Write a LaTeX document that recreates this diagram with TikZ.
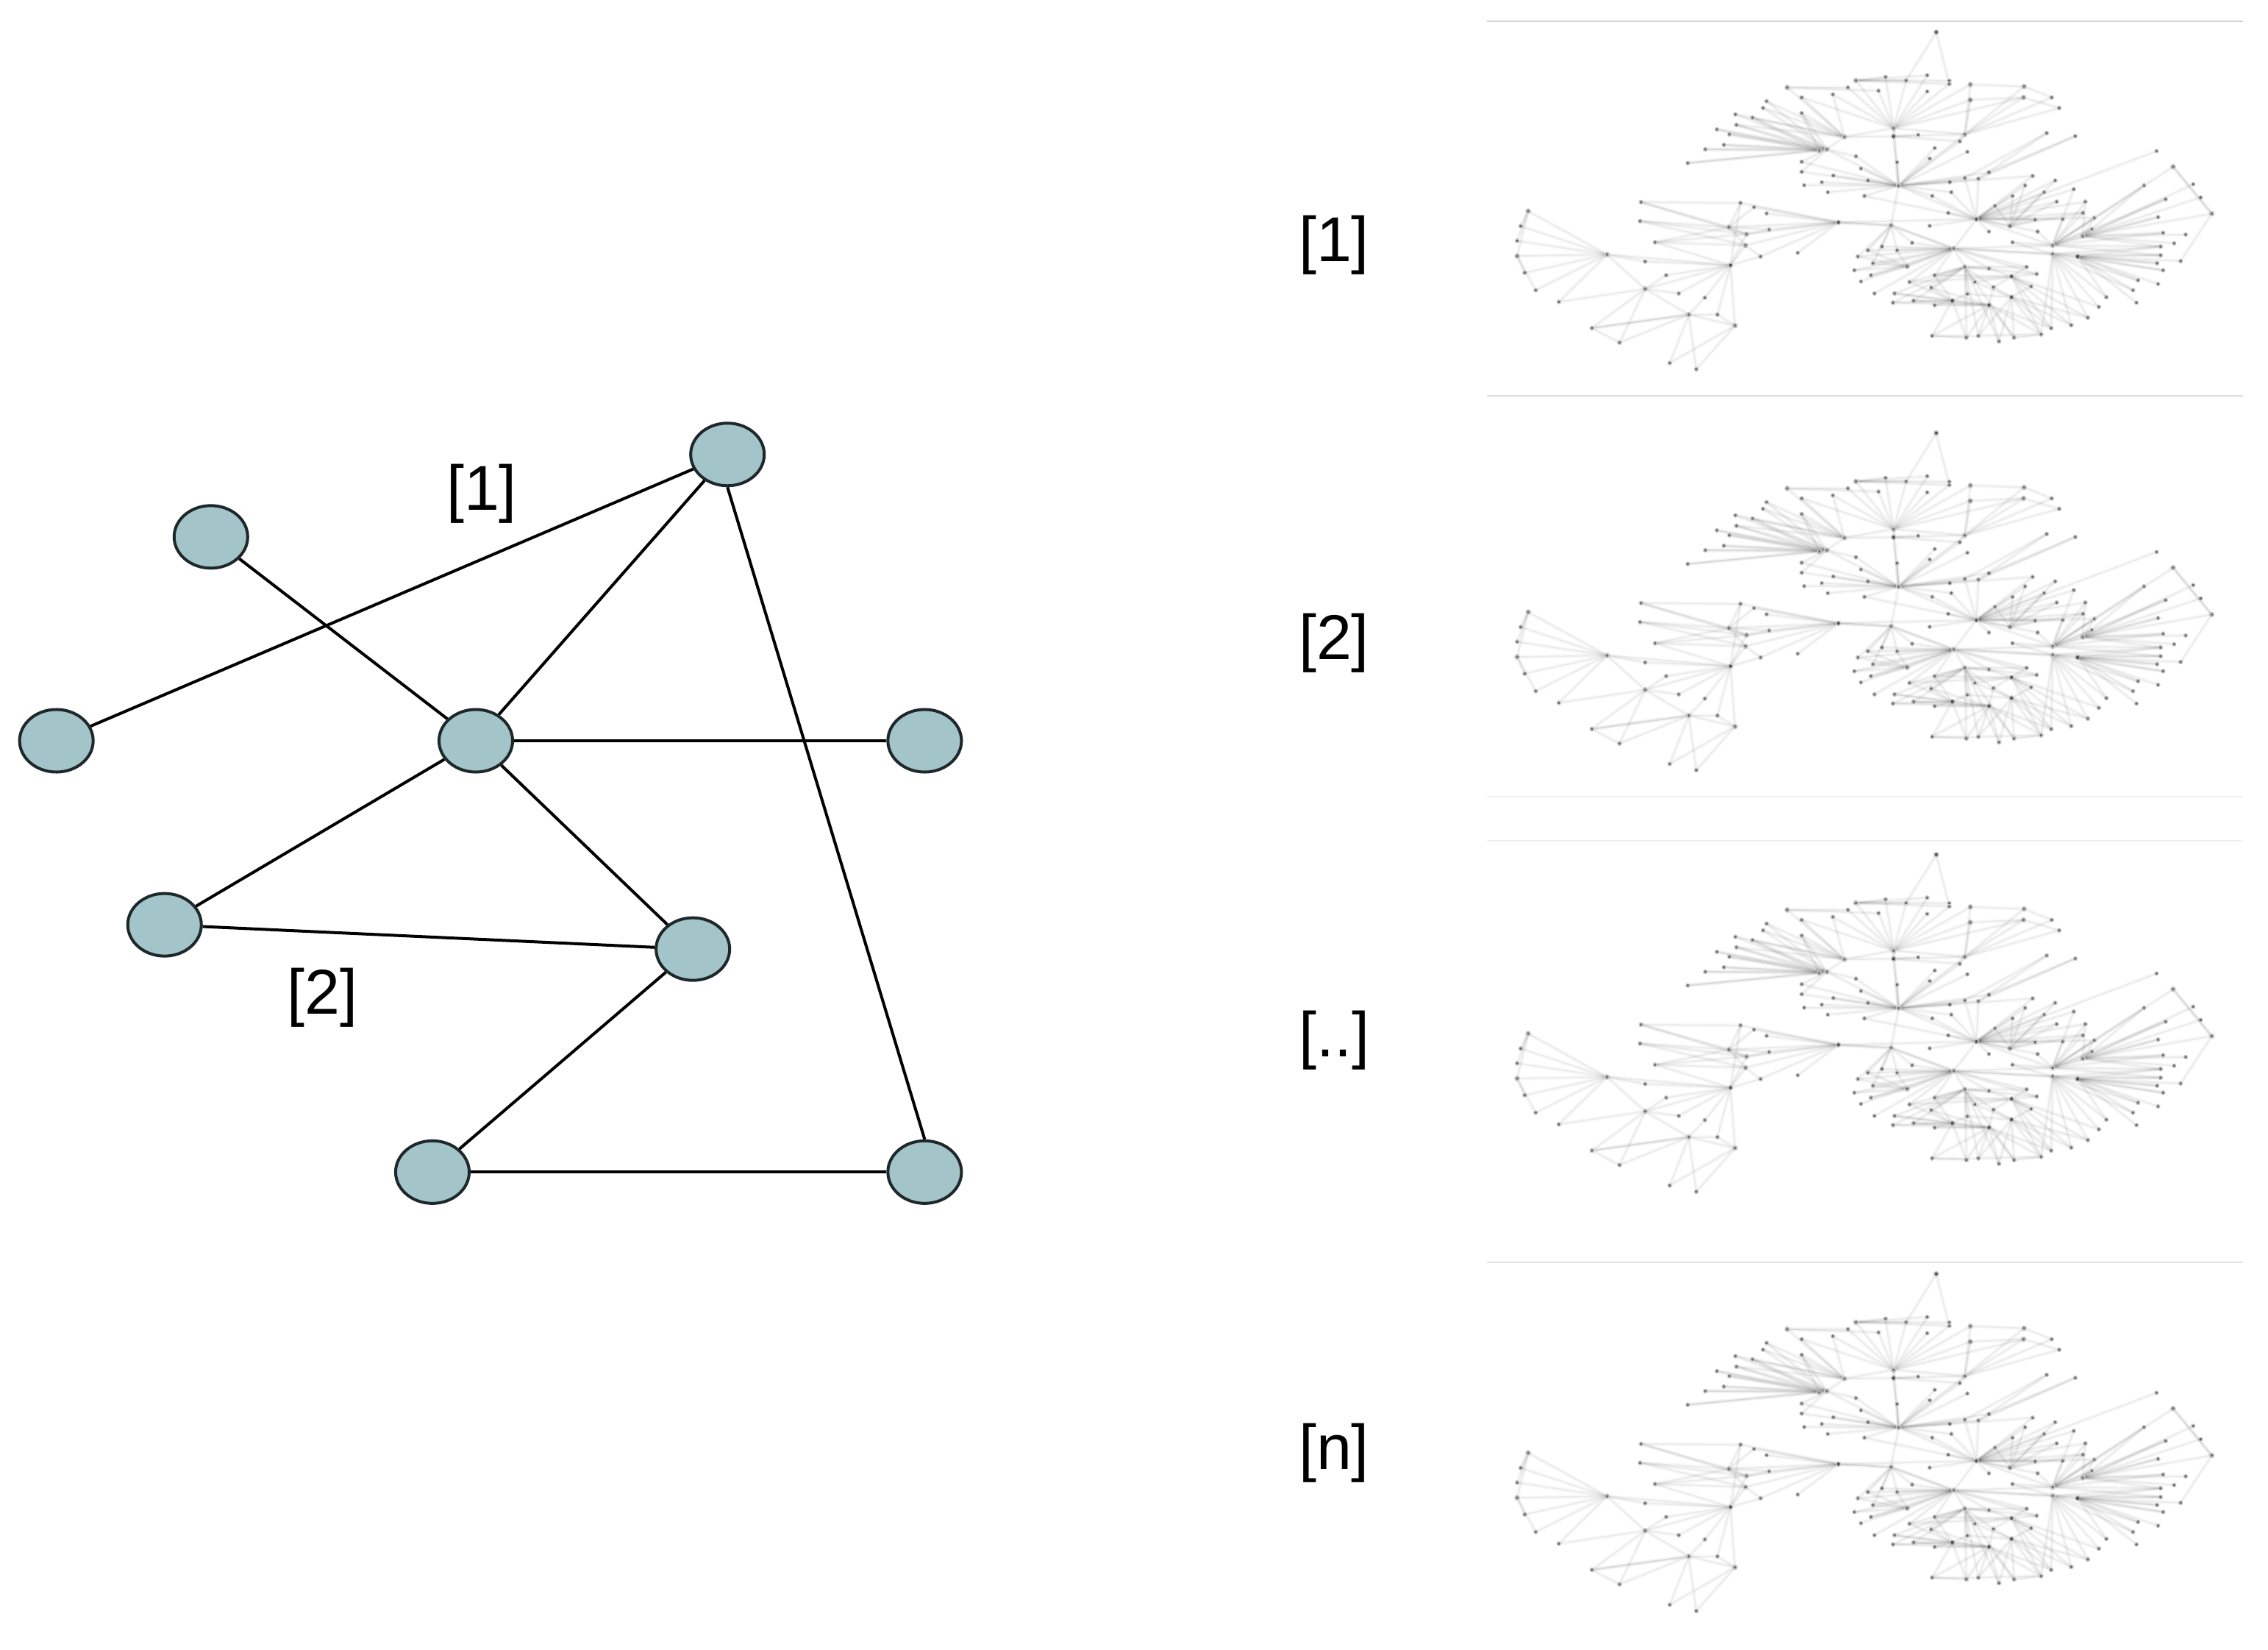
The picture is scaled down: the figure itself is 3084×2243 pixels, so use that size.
\documentclass[tikz,border=0pt]{standalone}
\usepackage{fontspec}
\setmainfont{Liberation Sans}
\usetikzlibrary{positioning,shapes.geometric}
\definecolor{NodeTeal} {RGB}{163,196,200}
\definecolor{NodeEdge} {RGB}{ 30, 40, 42}
\definecolor{RuleGray} {RGB}{222,222,222}
\tikzset{
  %% graph on the left
  gnode/.style={ellipse,draw=NodeEdge,fill=NodeTeal,line width=0.04cm,
                minimum width=1.0cm,minimum height=0.85cm,inner sep=0pt},
  gedge/.style={line width=0.04cm,color=black},
  glabel/.style={font=\fontsize{24.5}{28}\selectfont,inner sep=0pt},
  %% thumbnails on the right
  netdot/.style={circle,fill=black!56,draw=black!22,line width=0.012cm,
                 minimum size=0.05cm,inner sep=0pt},
  nethub/.style={circle,fill=black!68,draw=black!25,line width=0.015cm,
                 minimum size=0.06cm,inner sep=0pt},
  netedge/.style={line width=0.02cm,color=black,opacity=0.05,
                  preaction={draw,line width=0.055cm,color=black,opacity=0.025}},
  netrule/.style={line width=0.025cm,color=RuleGray},
}
\newcommand{\nethubs}[1]{%
  \foreach \hname/\px/\py in {#1}{\node[nethub] (\hname) at (\px,\py) {};}}
\newcommand{\netfan}[2]{%
  \foreach \px/\py [count=\i] in {#2}{
    \node[netdot] (#1-\i) at (\px,\py) {};
    \draw[netedge] (#1) -- (#1-\i);
  }}
\newcommand{\netpanel}[2]{%
  \begin{scope}[shift={(2020,#2)},x=0.00682cm,y=-0.00339cm,name prefix=#1-]
    \nethubs{A/813/455,B/813/488,C/955/480,D/715/490,E/680/540,EB/665/545,F/823/686,
             G/978/820,H/1130/925,I/1130/960,J/1180/970,K/933/938,L/955/1012,KB/840/1010,
             M/1048/1050,N/1048/1133,O/1003/1165,Q/930/1147,R/703/833,S/485/852,
             T/488/1005,U/242/962,V/318/1100,W/405/1203,X/497/1247,Y/808/845,
             Z/1190/888,AP/898/70,TL/738/264,TM/601/292,TR/966/280,TS/966/342,
             TT/1073/288,TU/1072/332,LA/85/788,LB/63/968,RA/1370/610,RB/1447/798,
             SC/520/880,SD/518/925,GB/1045/847}
    %% top
    \netfan{AP}{838/264,924/278}
    \netfan{TL}{797/250,838/264,880/243,924/265,924/278}
    \netfan{TM}{722/292,783/305}
    \netfan{TR}{1073/288}
    \netfan{TS}{1072/332}
    \netfan{TT}{1128/332}
    \netfan{TU}{1143/374}
    \netfan{A}{738/264,797/250,838/264,880/243,924/278,722/292,783/305,692/320,630/332,
               880/308,966/280,966/342,1072/332}
    \netfan{C}{1073/288,1072/332,1128/332,1143/374,966/342,966/280,945/508,813/455}
    \netfan{B}{715/490,955/480,862/482,813/455,823/686,945/508}
    \netfan{D}{630/332,692/320,630/395,560/347,553/374,532/413,601/292,498/400,500/442,680/540,813/455}
    \netfan{E}{560/347,553/374,498/400,532/413,500/442,461/460,486/480,475/522,438/540,
               403/595,630/395,630/590,630/630,738/568,665/545,823/686}
    \netfan{EB}{500/442,486/480,475/522,532/413,438/540,403/595,630/395,461/460}
    %% middle
    \netfan{F}{635/684,670/672,682/712,693/645,748/617,762/665,755/727,820/592,885/577,
               895/535,960/550,945/508,925/672,928/712,890/727,955/655,982/658,1003/632,
               1090/647,630/590,630/630,738/568,813/455,955/480}
    \draw[netedge] (F) -- (G);
    \draw[netedge] (F) -- (Y);
    \netfan{G}{1337/547,1135/665,1172/700,1075/685,1113/712,1050/727,1138/750,1015/767,
               922/795,885/847,1095/822,1045/847,1003/870,1100/870,1150/820,1190/795,
               955/655,982/658,928/712,890/727,755/727,1090/647,1195/750,1213/815}
    \netfan{GB}{1135/665,1113/712,1050/727,1075/685,1138/750,1015/767,1095/822,1190/795}
    \draw[netedge] (G) -- (R);
    \draw[netedge] (G) -- (K);
    \draw[netedge] (G) -- (H);
    \node[netdot] (UA) at (955,655) {};
    \node[netdot] (UB) at (982,658) {};
    \node[netdot] (UC) at (1003,632) {};
    \netfan{UA}{1118/475}
    \netfan{UB}{1175/487,1118/475}
    \netfan{UC}{1175/487}
    %% far right
    \netfan{H}{1370/610,1312/685,1355/740,1340/812,1213/815,1350/875,1345/930,1345/965,
               1190/888,1195/750,1050/913,1190/795,1172/700,1208/860,1150/820,1100/870}
    \netfan{Z}{1410/680,1425/733,1447/798,1395/882,1372/917,1350/875,1345/930,1312/685,
               1355/740,1340/812,1213/815,1208/860,1195/750}
    \netfan{I}{1345/965,1338/997,1345/930,1350/1025,1300/1065,1290/1105,1237/1133,
               1222/1172,1200/1215,1167/1245,1127/1257,1107/1282,1050/913,933/938}
    \netfan{J}{1385/988,1338/997,1350/1025,1300/1065,1340/1080,1290/1105,1297/1155,
               1237/1133,1345/965,1345/930}
    \netfan{RA}{1447/798}
    \netfan{RB}{1385/988}
    \draw[netedge] (RA) -- (RB);
    %% lower
    \netfan{K}{808/845,850/915,790/930,762/945,820/945,742/970,772/997,840/1010,735/1025,
               768/1045,748/1070,775/1118,845/1072,895/1045,955/1012,1003/1018,1078/1012,
               1098/1040,1130/960,1130/925}
    \netfan{KB}{742/970,772/997,735/1025,768/1045,762/945,820/945}
    \netfan{Y}{790/930,762/945,742/970,820/945,850/915,772/997,933/938}
    \netfan{L}{1003/1018,1078/1012,1098/1040,895/1045,845/1072,888/1095,812/1155,815/1118,
               853/1147,975/1072,960/1120,1012/1093,958/1295,982/1288,1023/1310,1053/1295}
    \netfan{M}{1003/1018,1078/1012,1098/1040,1087/1090,975/1072,1012/1093,895/1045,845/1072,
               1107/1282,1127/1257,1167/1245,1200/1215,1222/1172}
    \netfan{N}{1012/1093,1087/1090,960/1120,975/1072,1053/1295,1023/1310,1107/1282,1127/1257,
               1167/1245,1200/1215,982/1288}
    \netfan{O}{958/1295,982/1288,1023/1310,1053/1295,890/1288,895/1165,853/1147,812/1155,
               815/1118,888/1095,1107/1282,1127/1257,1012/1093}
    \netfan{Q}{890/1288,958/1295,853/1147,812/1155,815/1118,845/1072,895/1165,888/1095,960/1120,895/1045}
    \draw[netedge] (O) -- (Q);
    \node[netdot] (BA) at (890,1288) {};
    \netfan{BA}{958/1295,982/1288}
    \node[netdot] (BB) at (1107,1282) {};
    \netfan{BB}{1053/1295,982/1288}
    %% left clusters
    \netfan{R}{508/755,535/772,560/797,485/852,565/862,520/880,518/925,548/970,622/955,808/845}
    \draw[netedge] (R) -- (Y);
    \netfan{S}{310/752,308/828,338/913,508/755,535/772,565/862,520/880,518/925}
    \netfan{SD}{338/913,308/828,548/970}
    \netfan{SC}{338/913,310/752,308/828,565/862}
    \node[netdot] (SA) at (310,752) {};
    \netfan{SA}{508/755}
    \netfan{T}{318/990,360/1045,385/1118,437/1135,548/970,520/880,518/925,
               462/1203,497/1247,318/1100,508/755,338/913,242/962}
    \netfan{U}{85/788,70/848,63/907,63/968,78/1035,100/1105,146/1152,318/990,318/1100}
    \netfan{V}{146/1152,212/1257,267/1315,405/1203,385/1118,360/1045}
    \netfan{W}{212/1257,267/1315,367/1397,420/1422,462/1203,497/1247,437/1135}
    \netfan{X}{367/1397,420/1422,462/1203}
    \netfan{LA}{70/848,63/907,63/968}
    \netfan{LB}{78/1035,100/1105}
    \node[netdot] (LC) at (212,1257) {};
    \netfan{LC}{267/1315,405/1203}
  \end{scope}}

\begin{document}
\begin{tikzpicture}[x=0.01cm,y=-0.01cm,on grid]
  \useasboundingbox (0,0) rectangle (3084,2243);

  %% graph
  \node[gnode] (HUB) at (647,1007) {};
  \node[gnode, above=3.89cm of HUB,xshift=3.42cm] (TOP) {};
  \node[gnode, above=2.77cm of HUB,xshift=-3.60cm] (NW) {};
  \node[gnode, left=5.70cm of HUB] (WST) {};
  \node[gnode, right=6.10cm of HUB] (EST) {};
  \node[gnode, below=2.50cm of HUB,xshift=-4.23cm] (LFT) {};
  \node[gnode, below=2.83cm of HUB,xshift=2.95cm] (MID) {};
  \node[gnode, below=5.86cm of HUB,xshift=-0.59cm] (BTL) {};
  \node[gnode, below=5.86cm of HUB,xshift=6.10cm] (BTR) {};
  \node[glabel, above=3.36cm of HUB,xshift=0.08cm] (TAGA) {[1]};
  \node[glabel, below=3.49cm of HUB,xshift=-2.08cm] (TAGB) {[2]};

  \draw[gedge] (TOP) -- (WST);
  \draw[gedge] (TOP) -- (HUB);
  \draw[gedge] (TOP.south) -- (BTR.north);
  \draw[gedge] (NW)  -- (HUB);
  \draw[gedge] (HUB) -- (EST);
  \draw[gedge] (HUB) -- (LFT);
  \draw[gedge] (HUB) -- (MID);
  \draw[gedge] (LFT) -- (MID);
  \draw[gedge] (MID) -- (BTL);
  \draw[gedge] (BTL) -- (BTR);

  %% panel labels
  \node[glabel] (ROWA) at (1814,333) {[1]};
  \node[glabel, below=5.41cm of ROWA] (ROWB) {[2]};
  \node[glabel, below=10.81cm of ROWA] (ROWC) {[..]};
  \node[glabel, below=16.41cm of ROWA] (ROWD) {[n]};

  %% rules
  \draw[netrule,color=black!18] (2022,29) -- (3050,29);
  \draw[netrule,color=black!14] (2022,538) -- (3050,538);
  \draw[netrule,color=black!6]  (2022,1083) -- (3050,1083);
  \draw[netrule,color=black!6]  (2022,1143) -- (3050,1143);
  \draw[netrule,color=black!11] (2022,1716) -- (3050,1716);

  %% thumbnails
  \netpanel{PA}{20}
  \netpanel{PB}{565}
  \netpanel{PC}{1138}
  \netpanel{PD}{1708}
\end{tikzpicture}
\end{document}
